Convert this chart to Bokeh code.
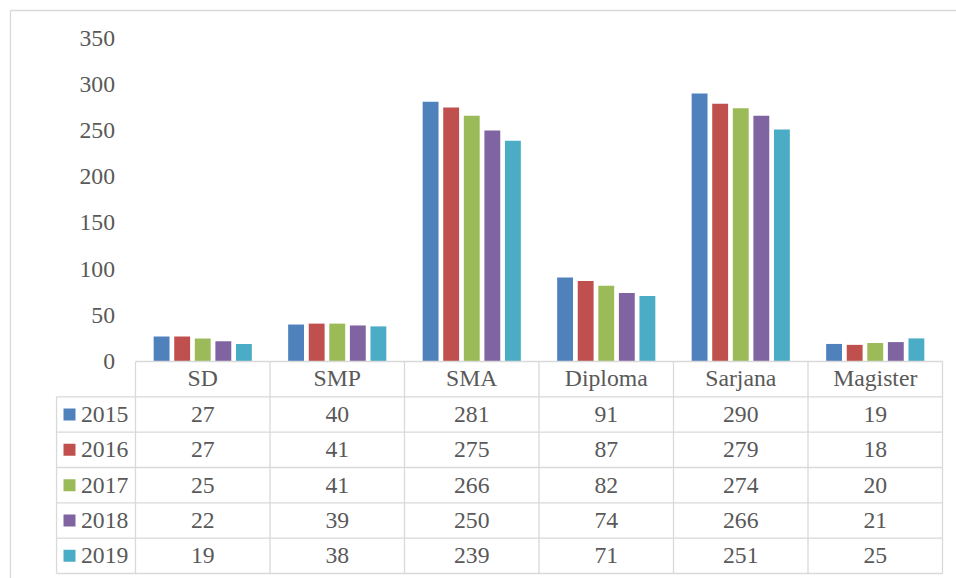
from bokeh.plotting import figure
from bokeh.models import Range1d, ColumnDataSource
from bokeh.core.properties import value
from bokeh.embed import file_html
from bokeh.resources import INLINE

categories = ["SD", "SMP", "SMA", "Diploma", "Sarjana", "Magister"]
years = ["2015", "2016", "2017", "2018", "2019"]
v2015 = [27, 40, 281, 91, 290, 19]
v2016 = [27, 41, 275, 87, 279, 18]
v2017 = [25, 41, 266, 82, 274, 20]
v2018 = [22, 39, 250, 74, 266, 21]
v2019 = [19, 38, 239, 71, 251, 25]
series = [v2015, v2016, v2017, v2018, v2019]
colors = ["#4F81BD", "#C0504D", "#9BBB59", "#8064A2", "#4BACC6"]
yticks = [0, 50, 100, 150, 200, 250, 300, 350]

FONT = value("Liberation Serif")
TXT = "#595959"
GRID = "#D9D9D9"
FS = "23.7px"

# layout constants (category units / table row units)
X0, X1 = -1.0037, 6.1041
Y0, Y1 = -234.85, 390.69
T0, T1 = -6.142, 10.218
legend_left = -0.587
pitch = 0.1530
bar_w = 0.118
border_x = -0.9294
border_t = 9.935

p = figure(width=956, height=578, x_range=Range1d(X0, X1), y_range=Range1d(Y0, Y1),
           x_axis_type=None, y_axis_type=None, min_border=0,
           toolbar_location=None, output_backend="svg",
           outline_line_color=None, background_fill_color="white",
           border_fill_color="white")
p.grid.visible = False
p.extra_y_ranges = {"tbl": Range1d(T0, T1)}

ncat = len(categories)
nser = len(series)

# bars
for j, (vals, col) in enumerate(zip(series, colors)):
    xs = [i + 0.5 + (j - (nser - 1) / 2) * pitch for i in range(ncat)]
    src = ColumnDataSource(dict(x=xs, top=vals))
    p.vbar(x="x", top="top", bottom=0, width=bar_w, source=src,
           fill_color=col, line_color=None)

# y tick labels
p.text(x=[-0.1524] * len(yticks), y=yticks, text=[str(t) for t in yticks],
       text_font=FONT, text_font_size=FS, text_color=TXT,
       text_align="right", text_baseline="middle")

# outer chart border (left & top)
p.segment(x0=[border_x, border_x], y0=[T0, border_t], x1=[border_x, X1], y1=[border_t, border_t],
          y_range_name="tbl", line_color=GRID, line_width=1.3)

# table grid
nrows = nser + 1
hx0, hy0, hx1, hy1 = [], [], [], []
hx0.append(0); hx1.append(ncat); hy0.append(0); hy1.append(0)
for r in range(1, nrows + 1):
    hx0.append(legend_left); hx1.append(ncat); hy0.append(-r); hy1.append(-r)
for c in range(ncat + 1):
    hx0.append(c); hx1.append(c); hy0.append(0); hy1.append(-nrows)
hx0.append(legend_left); hx1.append(legend_left); hy0.append(-1); hy1.append(-nrows)
p.segment(x0=hx0, y0=hy0, x1=hx1, y1=hy1, y_range_name="tbl",
          line_color=GRID, line_width=1.3)

# header text
p.text(x=[i + 0.5 for i in range(ncat)], y=[-0.47] * ncat, text=categories,
       y_range_name="tbl", text_font=FONT, text_font_size=FS, text_color=TXT,
       text_align="center", text_baseline="middle")

# cells
cx, cy, ct = [], [], []
for j, vals in enumerate(series):
    for i, v in enumerate(vals):
        cx.append(i + 0.5); cy.append(-1.5 - j); ct.append(str(v))
p.text(x=cx, y=cy, text=ct, y_range_name="tbl", text_font=FONT,
       text_font_size=FS, text_color=TXT, text_align="center",
       text_baseline="middle")

# legend keys and labels
ly = [-1.5 - j for j in range(nser)]
p.scatter(x=[-0.4907] * nser, y=ly, marker="square", size=12, fill_color=colors,
          line_color=None, y_range_name="tbl")
p.text(x=[-0.405] * nser, y=ly, text=years, y_range_name="tbl", text_font=FONT,
       text_font_size=FS, text_color=TXT, text_align="left",
       text_baseline="middle")

open("out.html", "w").write(file_html(p, INLINE))
